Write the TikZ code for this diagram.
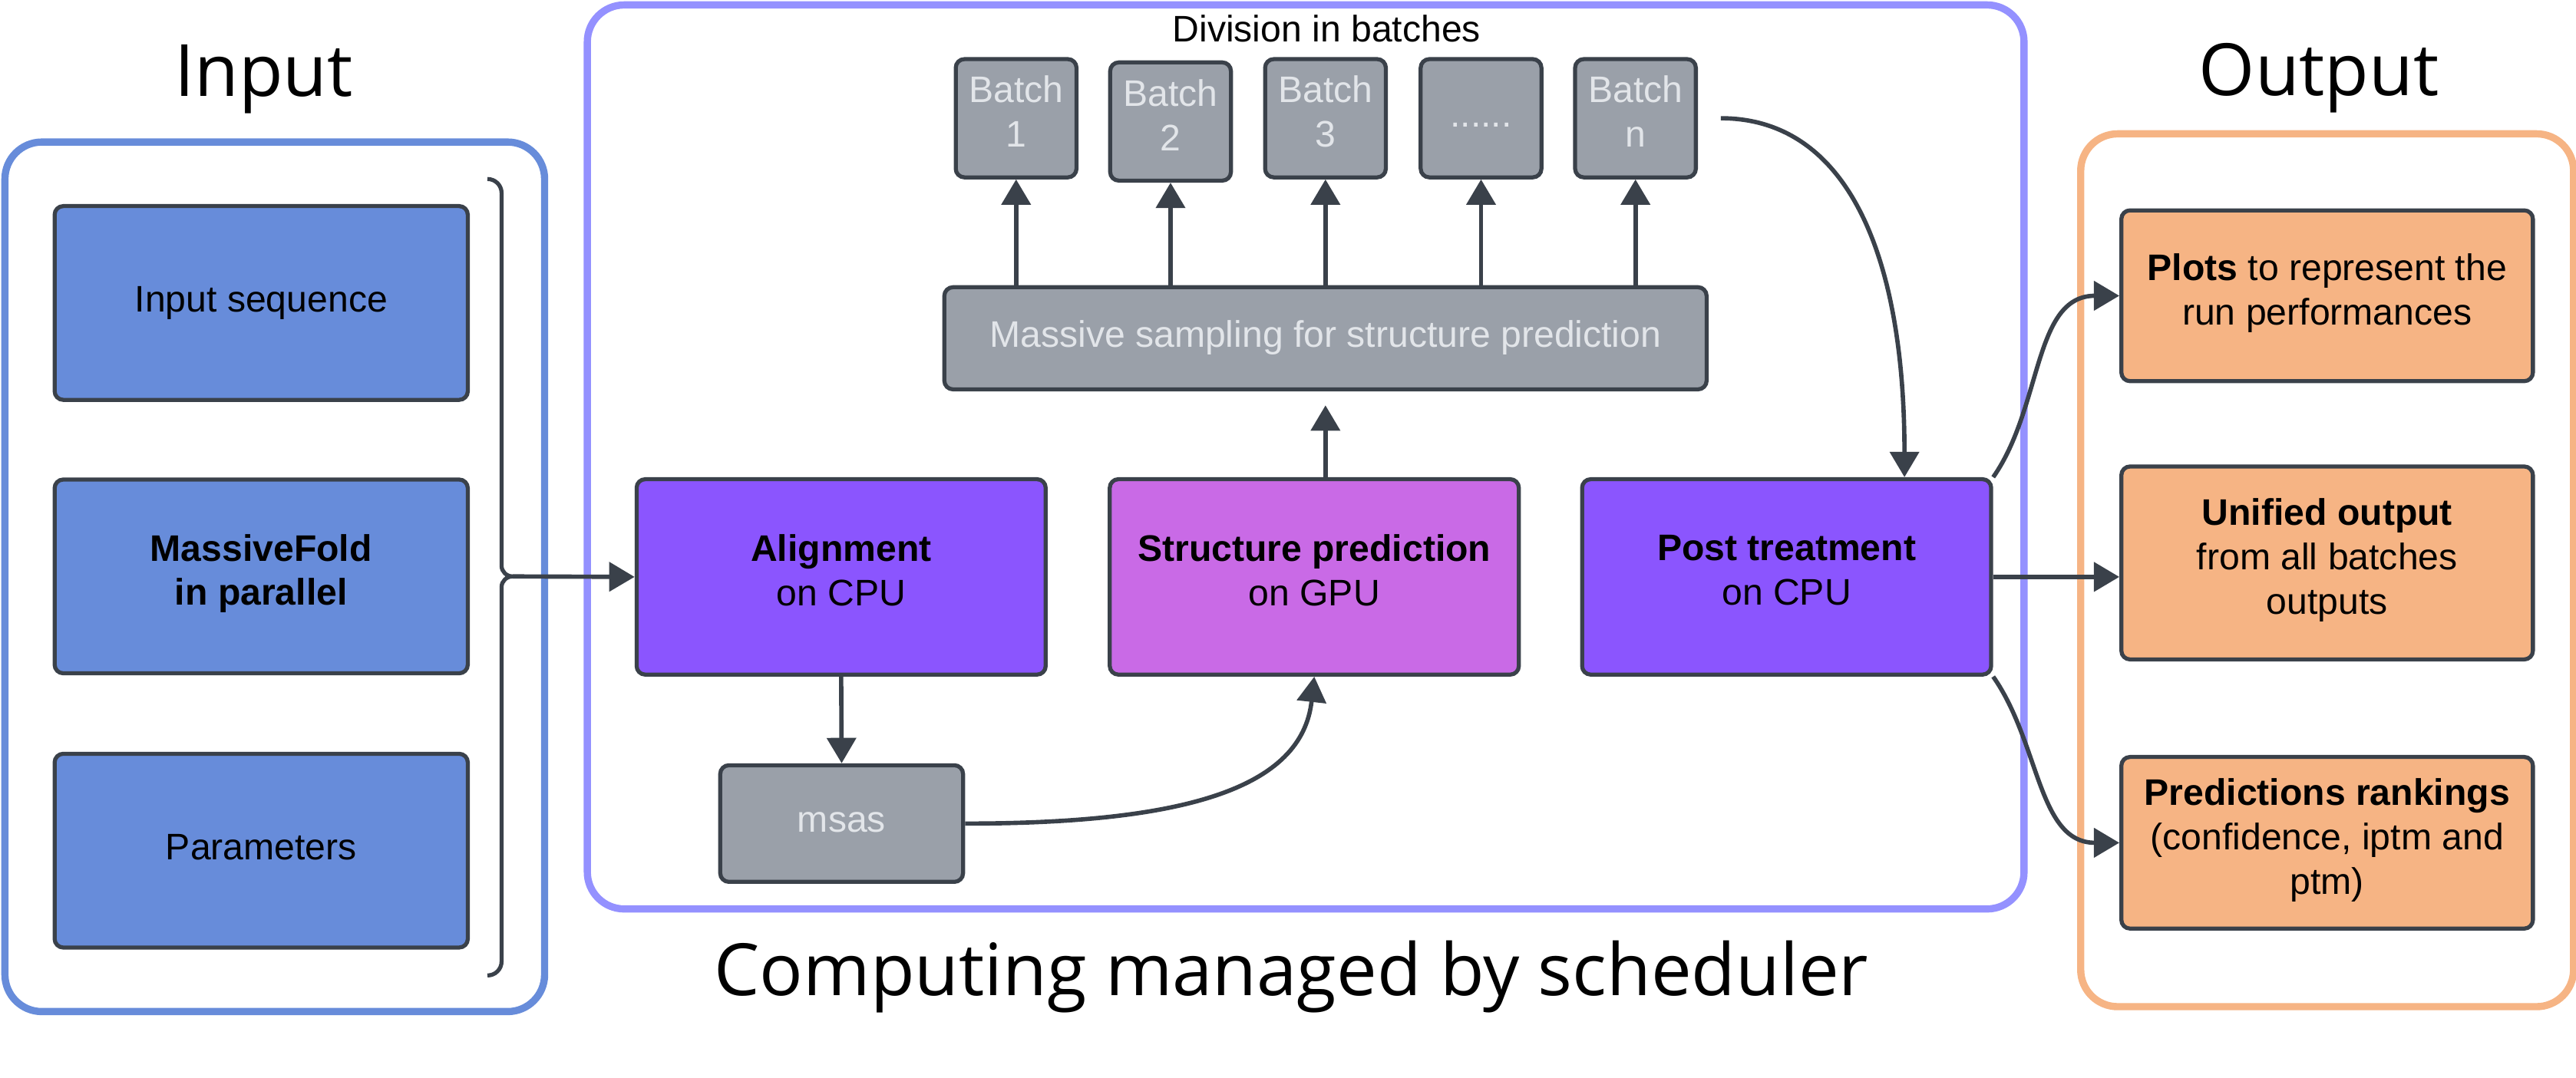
\documentclass[tikz,border=0pt]{standalone}
\usepackage{fontspec}
\setmainfont{Liberation Sans}
\newfontfamily\titlefont{Open Sans}
\usetikzlibrary{arrows.meta}

\definecolor{edge}{HTML}{3A414A}
\definecolor{inblue}{HTML}{678CDA}
\definecolor{midframe}{HTML}{9491FF}
\definecolor{outorange}{HTML}{F6B484}
\definecolor{cpu}{HTML}{8B55FE}
\definecolor{gpu}{HTML}{C96AE6}
\definecolor{grayfill}{HTML}{9AA0A9}
\definecolor{graytext}{HTML}{E2E5E9}

\begin{document}
\begin{tikzpicture}[
    box/.style={draw=edge, line width=1.4pt, rounded corners=3pt, align=center,
        inner sep=0pt, font=\fontsize{12.8}{15.4}\selectfont,
        execute at begin node=\strut, execute at end node=\strut},
    inputbox/.style={box, fill=inblue, minimum width=5.03cm, minimum height=2.36cm},
    graybox/.style={box, fill=grayfill, text=graytext},
    batchbox/.style={graybox, minimum width=1.47cm, minimum height=1.44cm},
    stepbox/.style={box, minimum width=4.98cm, minimum height=2.38cm},
    outbox/.style={box, fill=outorange, minimum width=5.01cm},
    frame/.style={line width=2.5pt, rounded corners=0.45cm},
    bigtitle/.style={font=\titlefont\fontsize{25}{30}\selectfont, anchor=base},
    arr/.style={draw=edge, line width=1.5pt, -{Triangle[length=8.8pt,width=10pt]}}
  ]
  \useasboundingbox (0,0) rectangle (31.36,13.12);

  % cadres
  \draw[frame, draw=inblue] (0.06,0.80) rectangle (6.63,11.39);
  \draw[frame, draw=midframe] (7.15,2.05) rectangle (24.64,13.06);
  \draw[frame, draw=outorange] (25.33,0.86) rectangle (31.33,11.49);

  % titres
  \node[bigtitle] (tin) at (3.21,11.95) {Input};
  \node[bigtitle] (tout) at (28.23,11.96) {Output};
  \node[bigtitle] (tsched) at (15.72,1.0) {Computing managed by scheduler};
  \node[anchor=base, font=\fontsize{12.8}{15.4}\selectfont] (tdiv) at (16.15,12.61) {Division in batches};

  % entrees
  \node[inputbox] (seq) at (3.18,9.43) {Input sequence};
  \node[inputbox] (mfold) at (3.18,6.10) {\textbf{MassiveFold}\\\textbf{in parallel}};
  \node[inputbox] (param) at (3.18,2.76) {Parameters};

  % accolade
  \coordinate (brtip) at (6.24,6.10);
  \draw[draw=edge, line width=1.4pt] (5.934,10.94) to[out=0,in=90] (6.106,10.77) -- (6.106,6.23)
      to[out=-90,in=180] (brtip) to[out=180,in=90] (6.106,5.97) -- (6.106,1.41)
      to[out=-90,in=0] (5.934,1.24);

  % lots
  \node[batchbox] (b1) at (12.37,11.68) {Batch\\1};
  \node[batchbox] (b2) at (14.25,11.64) {Batch\\2};
  \node[batchbox] (b3) at (16.136,11.68) {Batch\\3};
  \node[batchbox] (b4) at (18.03,11.68) {......};
  \node[batchbox] (bn) at (19.91,11.68) {Batch\\n};
  \node[graybox, minimum width=9.28cm, minimum height=1.244cm] (samp) at (16.136,9.0)
      {Massive sampling for structure prediction};

  % etapes
  \node[stepbox, fill=cpu] (align) at (10.24,6.094) {\textbf{Alignment}\\on CPU};
  \node[stepbox, fill=gpu] (struct) at (16.0,6.094) {\textbf{Structure prediction}\\on GPU};
  \node[stepbox, fill=cpu] (post) at (21.75,6.094) {\textbf{Post treatment}\\on CPU};
  \node[graybox, minimum width=2.956cm, minimum height=1.42cm] (msas) at (10.246,3.09) {msas};

  % sorties
  \node[outbox, minimum height=2.08cm] (plots) at (28.33,9.518)
      {\textbf{Plots} to represent the\\run performances};
  \node[outbox, minimum height=2.35cm] (unif) at (28.33,6.264)
      {\textbf{Unified output}\\from all batches\\outputs};
  \node[outbox, minimum height=2.09cm] (pred) at (28.33,2.856)
      {\textbf{Predictions rankings}\\(confidence, iptm and\\ptm)};

  % fleches
  \draw[arr] (brtip) -- (align.west);
  \draw[arr] (align.south) -- (msas.north);
  \draw[arr] (msas.east) .. controls +(2.68,0) and +(-0.15,-1.36) .. (struct.south);
  \draw[arr, shorten >=0.17cm] (struct.north -| samp.south) -- (samp.south);
  \draw[arr] (samp.north -| b1.south) -- (b1.south);
  \draw[arr] (samp.north -| b2.south) -- (b2.south);
  \draw[arr] (samp.north -| b3.south) -- (b3.south);
  \draw[arr] (samp.north -| b4.south) -- (b4.south);
  \draw[arr] (samp.north -| bn.south) -- (bn.south);
  \draw[arr, shorten <=0.28cm] (bn.east) .. controls +(1.76,0) and +(0,2.82) .. ([xshift=-1.08cm]post.north east);
  \draw[arr] (post.north east) to[out=55,in=180] (plots.west);
  \draw[arr] (post.east) -- (post.east -| unif.west);
  \draw[arr] (post.south east) to[out=-55,in=180] (pred.west);
\end{tikzpicture}
\end{document}
